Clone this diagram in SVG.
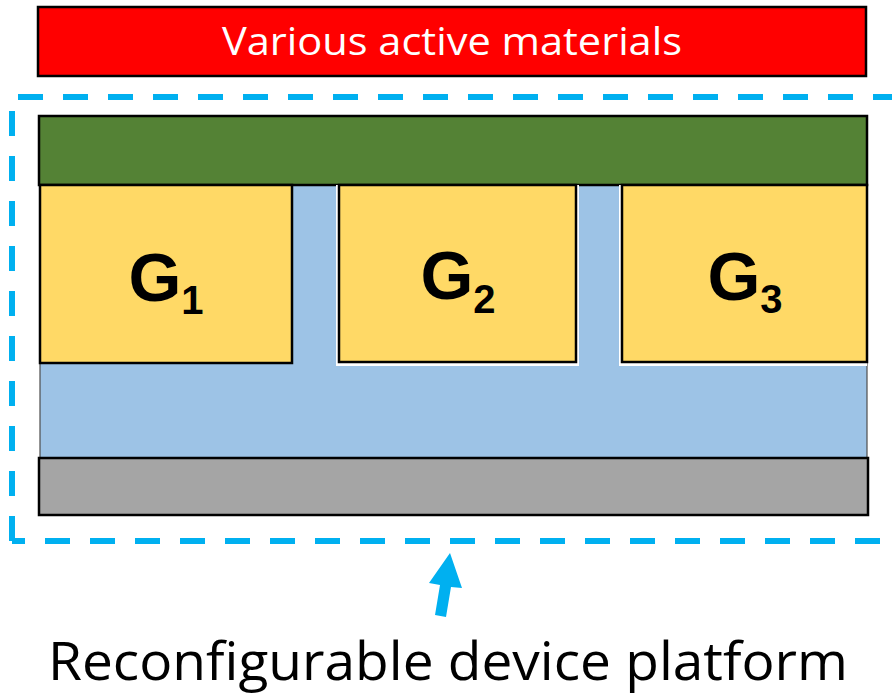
<svg xmlns="http://www.w3.org/2000/svg" width="892" height="695" viewBox="0 0 892 695">
  <style>
    .edge { stroke: #000; stroke-width: 2.5; }
    .gate { fill: #FFD966; stroke: #000; stroke-width: 2.5; }
    .glabel { font-family: "Liberation Sans", Arial, sans-serif; font-weight: bold; font-size: 68px; fill: #000; }
    .caption { font-family: "Open Sans", "Noto Sans", sans-serif; }
  </style>

  <!-- top layer of active materials -->
  <g id="active-materials">
    <rect x="38" y="7" width="828" height="69" fill="#FF0000" class="edge"/>
    <text x="452" y="55" class="caption" font-size="39" fill="#FFFFFF" text-anchor="middle" textLength="460" lengthAdjust="spacingAndGlyphs">Various active materials</text>
  </g>

  <!-- device stack -->
  <g id="dielectric">
    <rect x="40" y="185" width="827" height="273" fill="#9DC3E6" stroke="#4D4D4D" stroke-width="1.2"/>
  </g>
  <g id="substrate">
    <rect x="39" y="458" width="829" height="57" fill="#A5A5A5" class="edge"/>
  </g>
  <g id="channel">
    <rect x="39" y="116" width="828" height="69" fill="#548235" class="edge"/>
  </g>

  <g id="gate-1">
    <rect x="40" y="185" width="252" height="178" class="gate"/>
    <text x="166" y="301" class="glabel" text-anchor="middle">G<tspan font-size="40" dy="13">1</tspan></text>
  </g>
  <g id="gate-2">
    <rect x="336" y="185" width="243" height="181" fill="#FFFFFF"/>
    <rect x="339" y="185" width="237" height="177" class="gate"/>
    <text x="458" y="299" class="glabel" text-anchor="middle">G<tspan font-size="40" dy="14">2</tspan></text>
  </g>
  <g id="gate-3">
    <rect x="619" y="185" width="248" height="181" fill="#FFFFFF"/>
    <rect x="622" y="185" width="245" height="177" class="gate"/>
    <text x="745" y="300" class="glabel" text-anchor="middle">G<tspan font-size="40" dy="13">3</tspan></text>
  </g>

  <!-- platform outline, pointer and caption -->
  <g id="connectors">
    <path d="M12,541 V97 H902 V541 H12" fill="none" stroke="#00B0F0" stroke-width="6" stroke-dasharray="25 20"/>
    <polygon points="450,553 462,588 451,587 446,617 435,615 440,585 429,583" fill="#00B0F0"/>
  </g>

  <g id="platform-label">
    <text x="448" y="680" class="caption" font-size="53" fill="#000" text-anchor="middle" textLength="800" lengthAdjust="spacingAndGlyphs">Reconfigurable device platform</text>
  </g>
</svg>
